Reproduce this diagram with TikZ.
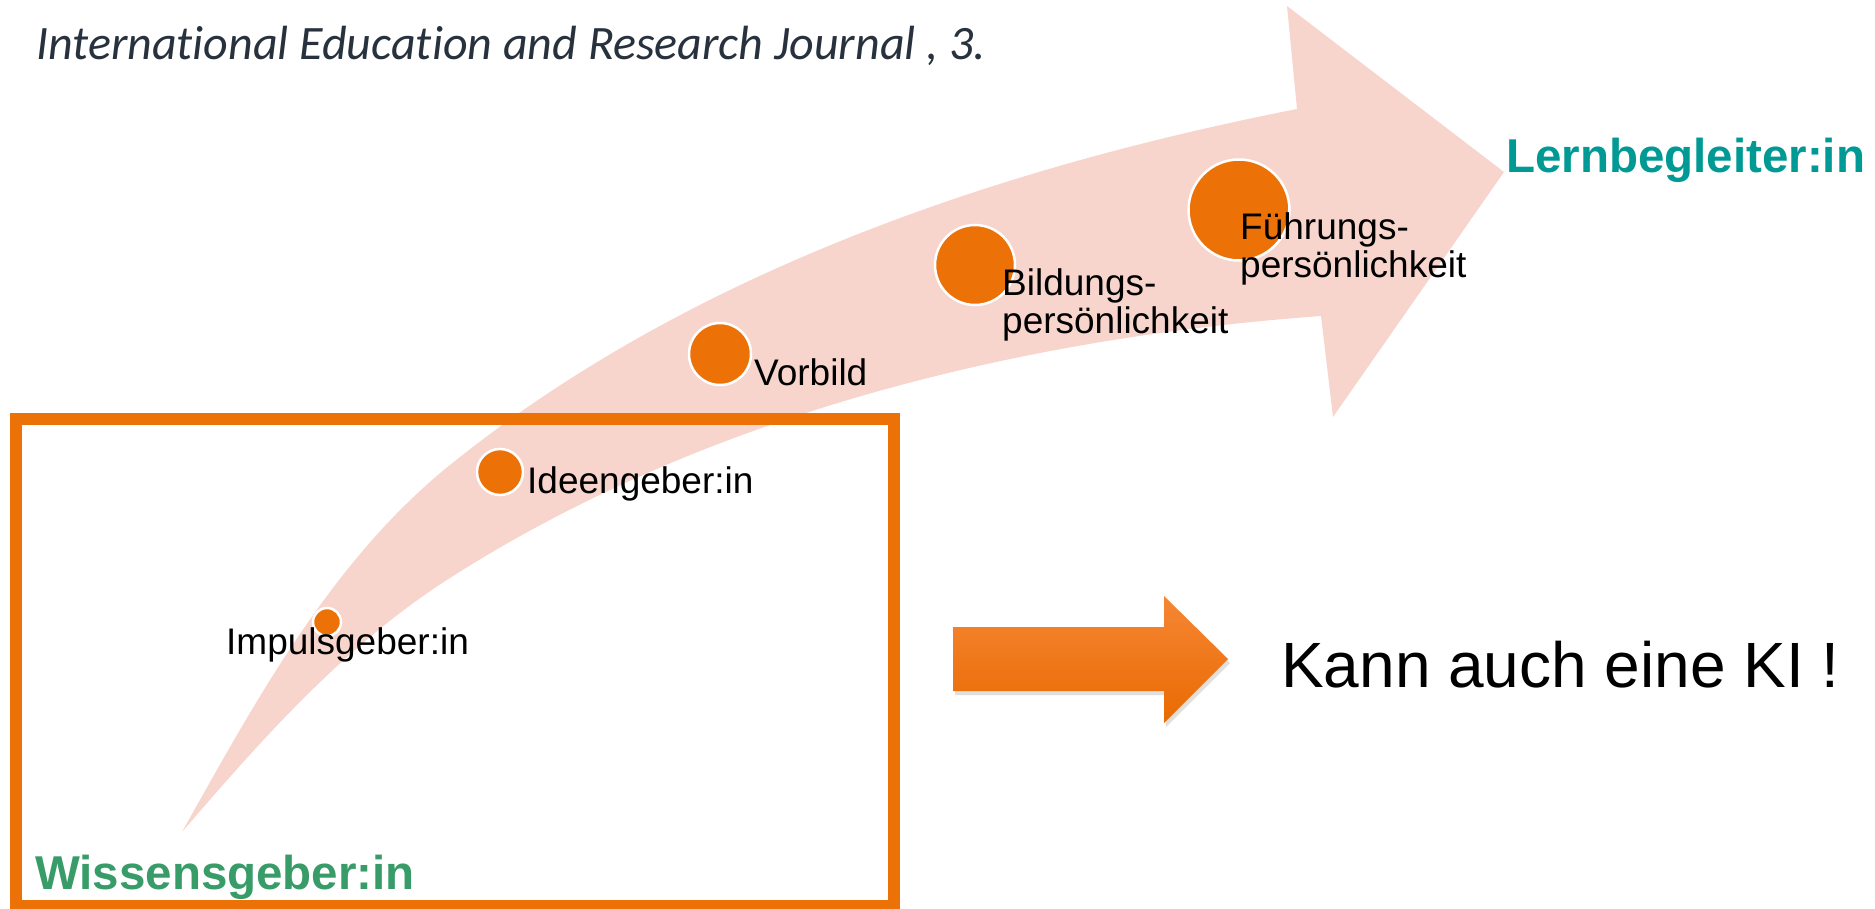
\documentclass[tikz,border=0pt]{standalone}
\usepackage{fontspec}
\setmainfont{Liberation Sans}
\newfontfamily\citefont[Ligatures=NoCommon]{Carlito}
\usetikzlibrary{positioning,shadows}

\definecolor{bandpink}{RGB}{247,213,205}
\definecolor{dotorange}{RGB}{236,114,8}
\definecolor{tealtxt}{RGB}{0,153,148}
\definecolor{greentxt}{RGB}{56,156,104}
\definecolor{citegray}{RGB}{40,50,62}
\definecolor{arrtop}{RGB}{246,134,52}
\definecolor{arrmid}{RGB}{244,113,0}
\definecolor{arrbot}{RGB}{233,106,2}

\begin{document}
\begin{tikzpicture}[x=1pt, y=-1pt,
    dot/.style={circle, fill=dotorange, draw=white, line width=2.5pt, inner sep=0pt, minimum size=#1},
    lbl/.style={font=\fontsize{37}{38}\selectfont, align=left, inner sep=0pt, anchor=base west},
    title/.style={font=\bfseries\fontsize{47.5}{48}\selectfont, inner sep=0pt, anchor=base west}]
    \useasboundingbox (0,0) rectangle (1875,909);

    % curved arrow
    \fill[bandpink] (182,832) .. controls (256,700) and (332,560) .. (450,465)
        .. controls (688,273) and (997,168) .. (1297,109)
        -- (1287,6) -- (1504,172) -- (1333,417) -- (1321,316)
        .. controls (1019,338) and (705,415) .. (450,578)
        .. controls (346,644) and (262,739) .. (182,832) -- cycle;

    \draw[line width=11.5pt, dotorange] (16,419) rectangle (894,906);

    \node[dot=28] (c1) at (327,622) {};
    \node[dot=46] (c2) at (500,472) {};
    \node[dot=62] (c3) at (720,354) {};
    \node[dot=80] (c4) at (975,265) {};
    \node[dot=101] (c5) at (1239,210) {};

    \node[lbl] (t1) at (226,654) {Impulsgeber:in};
    \node[lbl] (t2) at (527,493) {Ideengeber:in};
    \node[lbl] (t3) at (754,385) {Vorbild};
    \node[lbl] (t4) at (1002,334) {Bildungs-\\persönlichkeit};
    \node[lbl] (t5) at (1240,278) {Führungs-\\persönlichkeit};

    \node[title, text=tealtxt] (lern) at (1506,173) {Lernbegleiter:in};
    \node[title, text=greentxt] (wissen) at (35,889) {Wissensgeber:in};

    \node[font=\citefont\itshape\fontsize{48}{48}\selectfont, text=citegray, inner sep=0pt, anchor=base west] (cite) at (36,60) {International Education and Research Journal , 3.};

    % small arrow
    \shade[top color=arrtop, middle color=arrmid, bottom color=arrbot,
        drop shadow={opacity=0.25, shadow xshift=2pt, shadow yshift=-4pt}]
        (953,627) -- (1164,627) -- (1164,596) -- (1228,659) -- (1164,723) -- (1164,691) -- (953,691) -- cycle;
    \node[font=\fontsize{64}{64}\selectfont, inner sep=0pt, anchor=base west] (ki) at (1281,687) {Kann auch eine KI !};
\end{tikzpicture}
\end{document}
